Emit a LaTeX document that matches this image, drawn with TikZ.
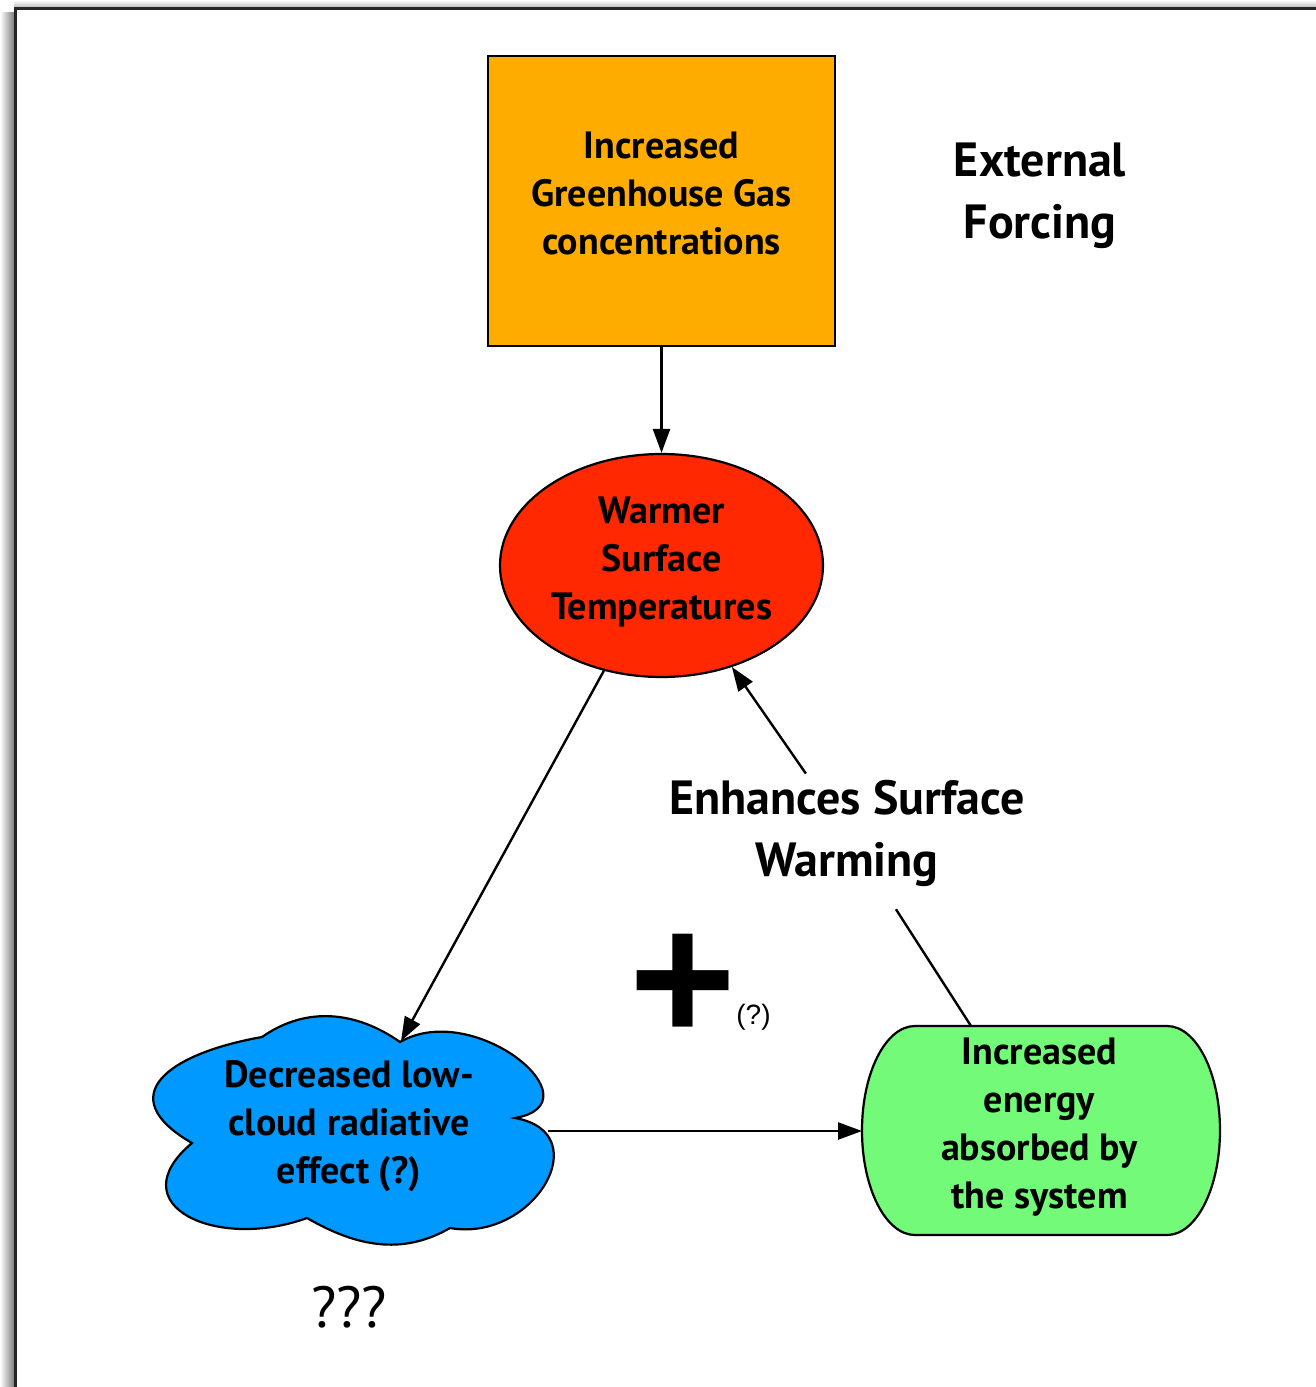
\documentclass[tikz,border=0pt]{standalone}
\usepackage{fontspec}
\setmainfont{PT Sans}
\newfontfamily\plainsans{Liberation Sans}
\usetikzlibrary{arrows.meta,shapes.geometric}
\definecolor{ghgorange}{RGB}{255,172,0}
\definecolor{warmred}{RGB}{255,40,0}
\definecolor{cloudblue}{RGB}{0,153,255}
\definecolor{energygreen}{RGB}{114,250,120}
\tikzset{
  shapeline/.style={draw=black, line width=2.2pt},
  boxtext/.style={align=center, inner sep=0pt, font=\fontsize{38}{48}\selectfont\bfseries},
  bigtext/.style={align=center, inner sep=6pt, font=\fontsize{48}{62}\selectfont\bfseries},
  link/.style={line width=2.4pt, -{Triangle[length=24pt,width=17pt]}},
  plainlink/.style={line width=2.4pt},
}
\begin{document}
\begin{tikzpicture}[x=1pt,y=1pt]
\useasboundingbox (0,0) rectangle (1316,-1387);
% soft drop shadow round the page frame
\shade[left color=white, right color=black!50] (0,-12) rectangle (14,-1387);
\shade[top color=white, bottom color=black!25] (14,0) rectangle (1316,-7);
% page frame
\draw[line width=3pt, black!85] (15.5,-1392) -- (15.5,-8.5) -- (1320,-8.5);

% forcing box
\node[shapeline, fill=ghgorange, minimum width=347pt, minimum height=290pt, inner sep=0pt] (ghg) at (661.5,-201) {};
\node[boxtext] (ghgtext) at (661.5,-193) {Increased\\Greenhouse Gas\\concentrations};

% surface temperature
\node[shapeline, ellipse, fill=warmred, minimum width=323pt, minimum height=223pt, inner sep=0pt] (warm) at (661.5,-565.5) {};
\node[boxtext] (warmtext) at (661.5,-561.5) {Warmer\\Surface\\Temperatures};

% low cloud
\filldraw[shapeline, fill=cloudblue] (262,-1037)
  to[out=35,in=145] (400,-1042)
  to[out=30,in=10,looseness=1.6] (515,-1118)
  to[out=-10,in=-10,looseness=1.7] (450,-1228)
  to[out=-150,in=-30] (307,-1218)
  to[out=-160,in=-140,looseness=1.8] (192,-1143)
  to[out=150,in=190,looseness=1.9] (262,-1037) -- cycle;
\coordinate (cloudtop) at (401,-1041);
\coordinate (cloudright) at (548,-1131);
\node[boxtext] (cloudtext) at (349,-1126) {Decreased low-\\cloud radiative\\effect (?)};

% absorbed energy
\filldraw[shapeline, fill=energygreen] (915,-1026) -- (1167,-1026)
  arc[start angle=90, end angle=-90, x radius=53, y radius=104.5]
  -- (915,-1235)
  arc[start angle=270, end angle=90, x radius=53, y radius=104.5] -- cycle;
\coordinate (energyleft) at (862,-1131);
\coordinate (energytop) at (971,-1026);
\node[boxtext] (energytext) at (1039.5,-1127) {Increased\\energy\\absorbed by\\the system};

% labels
\node[bigtext] (forcing) at (1040,-196) {External\\Forcing};
\node[bigtext] (enh) at (847,-833) {Enhances Surface\\Warming};
\node[inner sep=0pt, font=\plainsans\bfseries\fontsize{183}{183}\selectfont] (plus) at (683,-988) {+};
\node[inner sep=0pt, font=\plainsans\fontsize{28}{32}\selectfont] (plusq) at (753.5,-1017) {(?)};
\node[inner sep=0pt, font=\fontsize{58}{62}\selectfont] (qqq) at (349,-1307) {???};

% connectors
\draw[link] (ghg.south) -- (warm.north);
\draw[link] (warm) -- (cloudtop);
\draw[link] (cloudright) -- (energyleft);
\draw[plainlink, shorten >=20pt] (energytop) -- (enh);
\draw[link] (enh) -- (warm);
\end{tikzpicture}
\end{document}
